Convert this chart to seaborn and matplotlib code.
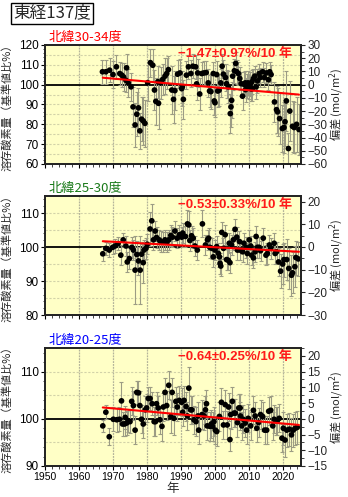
import numpy as np
import pandas as pd
import matplotlib
matplotlib.use("Agg")
import matplotlib.pyplot as plt
import seaborn as sns
from matplotlib.ticker import MultipleLocator

# ---------------- data ----------------
main_title = "東経137度"
panel_titles = ["北緯30-34度", "北緯25-30度", "北緯20-25度"]
panel_colors = ["#ff0000", "#1a7a1a", "#0000ff"]
trend_texts = ["−1.47±0.97%/10 年", "−0.53±0.33%/10 年", "−0.64±0.25%/10 年"]

years_p1 = [1966.9, 1967.9, 1969.0, 1970.0, 1971.0, 1972.0, 1972.6, 1973.1, 1973.8, 1974.0,
            1974.5, 1975.3, 1975.9, 1976.5, 1977.0, 1977.5, 1977.9, 1978.4, 1978.9, 1979.4,
            1980.2, 1981.0, 1981.7, 1982.2, 1982.6, 1983.2, 1983.4, 1984.0, 1984.6, 1985.3,
            1985.8, 1986.3, 1987.3, 1987.8, 1988.2, 1989.0, 1989.7, 1990.2, 1990.4, 1990.7,
            1991.6, 1992.2, 1992.9, 1993.5, 1994.3, 1994.6, 1994.9, 1995.5, 1996.1, 1996.7,
            1997.4, 1998.0, 1998.4, 1998.8, 1999.5, 1999.8, 2000.0, 2000.5, 2000.8, 2001.2,
            2001.7, 2002.1, 2002.5, 2003.1, 2003.4, 2003.9, 2004.5, 2004.7, 2004.9, 2005.2,
            2005.7, 2006.1, 2006.4, 2006.9, 2007.3, 2007.7, 2008.1, 2008.5, 2008.9, 2009.0,
            2009.4, 2009.7, 2010.1, 2010.4, 2010.7, 2010.9, 2011.0, 2011.3, 2011.7, 2012.1,
            2012.5, 2013.0, 2013.3, 2014.0, 2014.5, 2015.1, 2015.7, 2016.1, 2016.5, 2017.5,
            2018.1, 2018.4, 2019.0, 2019.8, 2020.3, 2020.6, 2021.0, 2021.6, 2022.0, 2022.8,
            2023.3, 2024.0, 2024.7]
vals_p1 = [106.5, 106.5, 107.3, 105.1, 109.0, 105.6, 104.8, 103.9, 102.2, 108.5,
           100.9, 98.9, 88.8, 79.7, 85.1, 88.3, 76.7, 82.6, 81.7, 80.5,
           101.0, 111.1, 109.8, 97.3, 91.6, 101.5, 90.6, 100.9, 102.6, 104.3,
           105.6, 107.6, 97.3, 92.6, 97.0, 105.3, 105.9, 98.0, 98.9, 92.6,
           104.8, 109.0, 105.6, 109.3, 109.0, 100.4, 105.9, 95.3, 105.6, 105.9,
           106.1, 100.9, 96.8, 96.5, 105.6, 91.8, 90.9, 105.1, 96.8, 97.2,
           100.9, 109.3, 105.3, 103.6, 100.5, 98.9, 85.4, 88.8, 92.1, 104.3,
           107.0, 110.7, 106.5, 105.6, 103.1, 100.5, 94.2, 100.2, 100.9, 97.5,
           99.2, 100.9, 98.9, 100.2, 97.8, 101.5, 98.0, 103.1, 104.3, 98.9,
           101.9, 105.6, 103.6, 106.5, 103.6, 105.9, 102.5, 106.5, 105.1, 91.3,
           87.4, 86.3, 82.9, 77.9, 78.4, 81.3, 91.8, 67.8, 86.7, 79.0,
           78.4, 80.0, 77.4]
errs_p1 = [6, 6, 6, 7, 6, 6, 6, 7, 6, 7,
           7, 7, 10, 11, 11, 10, 9, 11, 12, 12,
           9, 7, 8, 10, 12, 8, 13, 8, 8, 9,
           8, 7, 12, 12, 10, 7, 7, 9, 8, 10,
           7, 6, 7, 6, 6, 8, 7, 8, 6, 6,
           6, 7, 8, 9, 6, 7, 7, 7, 8, 8,
           7, 6, 7, 7, 7, 8, 10, 10, 9, 7,
           6, 6, 6, 6, 6, 6, 7, 6, 6, 6,
           6, 6, 6, 6, 6, 6, 6, 5, 5, 6,
           6, 5, 5, 5, 5, 5, 5, 5, 5, 10,
           12, 12, 13, 12, 13, 12, 15, 8, 15, 13,
           13, 14, 13]

years_p2 = [1967.0, 1967.9, 1968.9, 1969.9, 1970.6, 1971.5, 1972.3, 1973.0, 1973.8, 1974.2,
            1974.8, 1975.5, 1976.0, 1976.5, 1977.0, 1977.5, 1978.0, 1978.4, 1978.9, 1979.1,
            1979.7, 1980.1, 1980.9, 1981.4, 1981.9, 1982.4, 1982.8, 1983.6, 1984.0, 1984.6,
            1985.3, 1985.8, 1986.4, 1987.0, 1987.5, 1988.2, 1988.9, 1989.5, 1990.2, 1990.5,
            1991.3, 1991.9, 1992.3, 1992.6, 1993.1, 1993.6, 1994.1, 1994.8, 1996.3, 1997.2,
            1997.8, 1998.1, 1998.5, 1999.1, 1999.5, 2000.0, 2000.5, 2001.0, 2001.3, 2001.5,
            2001.7, 2002.0, 2002.5, 2003.0, 2003.4, 2003.9, 2004.2, 2004.4, 2004.9, 2005.4,
            2005.9, 2006.4, 2006.6, 2007.2, 2007.5, 2008.1, 2008.5, 2009.1, 2009.5, 2010.1,
            2010.5, 2010.8, 2011.3, 2011.8, 2012.1, 2012.5, 2013.0, 2013.4, 2014.2, 2015.0,
            2015.4, 2016.0, 2016.4, 2017.4, 2017.7, 2018.1, 2018.7, 2019.3, 2019.9, 2020.3,
            2021.1, 2021.7, 2022.5, 2022.8, 2023.5, 2023.8, 2024.5]
vals_p2 = [98.0, 99.6, 99.1, 99.9, 100.3, 101.0, 97.6, 102.1, 100.3, 95.6,
           96.6, 99.9, 99.1, 93.2, 97.8, 95.9, 93.2, 97.9, 95.4, 99.1,
           99.6, 100.8, 105.3, 107.7, 102.1, 104.7, 102.8, 102.1, 101.6, 101.4,
           102.1, 101.4, 102.1, 103.4, 102.9, 104.7, 102.6, 103.6, 102.9, 104.1,
           103.1, 106.8, 106.5, 101.9, 103.3, 102.6, 100.3, 99.1, 106.8, 100.6,
           102.1, 102.6, 99.9, 99.6, 97.1, 99.1, 100.1, 98.1, 97.1, 95.2,
           94.4, 104.3, 99.6, 103.6, 96.3, 96.1, 101.1, 95.4, 100.6, 102.1,
           105.2, 102.9, 99.1, 101.6, 99.1, 98.6, 101.1, 99.9, 98.1, 102.1,
           100.3, 97.6, 96.8, 98.6, 103.1, 99.9, 99.9, 98.9, 102.6, 97.6,
           98.1, 100.6, 99.6, 101.1, 98.1, 98.6, 95.6, 92.9, 95.0, 96.3,
           96.3, 93.7, 91.7, 92.4, 94.2, 96.9, 96.5]
errs_p2 = [2, 2, 2, 2, 2, 2, 3, 2, 3, 3,
           3, 3, 3, 10, 4, 4, 10, 3, 6, 3,
           3, 3, 5, 5, 3, 3, 3, 3, 3, 3,
           3, 3, 3, 3, 3, 3, 3, 3, 3, 3,
           3, 4, 4, 3, 3, 3, 3, 3, 4, 3,
           3, 3, 3, 3, 3, 3, 3, 3, 3, 3,
           3, 3, 3, 3, 3, 3, 3, 3, 3, 3,
           3, 3, 3, 3, 3, 3, 3, 3, 3, 3,
           3, 3, 3, 3, 3, 3, 3, 3, 3, 3,
           3, 3, 3, 3, 3, 3, 4, 5, 6, 5,
           6, 6, 6, 6, 6, 5, 5]

years_p3 = [1967.0, 1967.9, 1968.9, 1970.1, 1971.1, 1971.9, 1972.5, 1972.8, 1973.4, 1973.6,
            1974.0, 1974.5, 1975.0, 1975.5, 1976.0, 1976.5, 1977.0, 1977.5, 1977.9, 1978.4,
            1978.9, 1979.5, 1979.9, 1980.4, 1980.9, 1981.5, 1982.1, 1982.5, 1982.8, 1983.3,
            1983.8, 1984.4, 1984.8, 1985.3, 1985.8, 1986.4, 1987.0, 1987.4, 1987.9, 1988.5,
            1988.9, 1989.5, 1990.2, 1990.5, 1990.9, 1991.5, 1991.9, 1992.3, 1992.8, 1993.2,
            1993.8, 1994.4, 1995.0, 1995.2, 1996.2, 1996.8, 1997.2, 1997.5, 1997.7, 1998.5,
            1998.9, 1999.3, 1999.7, 2000.1, 2000.5, 2001.3, 2001.9, 2002.5, 2003.0, 2003.6,
            2004.0, 2004.4, 2004.6, 2005.1, 2005.6, 2006.0, 2006.6, 2007.0, 2007.4, 2007.5,
            2007.9, 2008.3, 2008.9, 2009.3, 2009.8, 2010.5, 2011.3, 2011.8, 2012.3, 2012.8,
            2013.4, 2014.0, 2014.6, 2015.2, 2015.8, 2016.4, 2017.0, 2017.4, 2018.0, 2018.3,
            2018.9, 2019.7, 2020.1, 2020.6, 2021.1, 2021.9, 2022.5, 2023.0, 2023.6, 2024.2]
vals_p3 = [98.5, 101.4, 96.2, 99.9, 99.8, 99.9, 103.8, 98.9, 98.9, 100.3,
           99.1, 99.6, 99.4, 103.7, 102.8, 97.6, 105.6, 105.5, 102.8, 99.9,
           98.9, 101.9, 102.3, 104.3, 104.3, 103.2, 99.4, 99.4, 103.2, 102.3,
           99.8, 98.4, 102.5, 105.6, 102.8, 107.1, 100.5, 105.6, 100.1, 103.7,
           102.5, 103.9, 103.5, 101.4, 103.9, 102.6, 100.6, 106.5, 101.9, 101.9,
           99.8, 99.4, 100.6, 97.6, 100.9, 100.6, 101.9, 103.2, 98.5, 98.4,
           98.9, 98.4, 99.4, 97.6, 97.3, 100.5, 103.5, 98.7, 103.0, 98.7,
           102.5, 95.6, 100.9, 103.7, 101.2, 101.2, 99.2, 102.3, 102.3, 100.6,
           98.5, 99.9, 99.1, 97.6, 100.1, 98.5, 101.8, 100.6, 98.0, 99.2,
           100.9, 100.5, 97.6, 97.6, 101.6, 101.8, 98.5, 99.9, 99.6, 99.6,
           100.1, 95.9, 98.0, 95.5, 97.6, 97.8, 96.6, 97.6, 98.0, 98.2]
errs_p3 = [1.2, 1.5, 1.8, 2.5, 2.5, 2.5, 4.0, 2.5, 2.5, 2.5,
           2.5, 2.5, 2.5, 3.0, 3.0, 3.0, 2.5, 2.5, 3.0, 3.0,
           3.0, 3.0, 3.0, 2.5, 2.5, 2.5, 3.0, 3.0, 2.5, 2.5,
           3.0, 3.0, 3.0, 3.0, 3.0, 3.0, 3.5, 3.0, 3.5, 3.0,
           3.0, 3.0, 3.0, 3.0, 3.0, 3.0, 3.0, 4.5, 3.0, 3.0,
           3.0, 3.0, 3.0, 3.0, 3.0, 3.0, 3.0, 3.0, 3.0, 3.0,
           3.0, 3.0, 3.0, 3.0, 3.0, 3.0, 3.0, 3.0, 3.0, 3.0,
           3.0, 2.5, 3.0, 3.0, 3.0, 3.0, 3.0, 3.0, 3.0, 3.0,
           3.0, 3.0, 3.0, 3.0, 3.0, 3.0, 3.0, 3.0, 3.0, 3.0,
           3.0, 3.0, 3.0, 3.0, 3.0, 3.0, 3.0, 3.0, 3.0, 3.0,
           3.0, 3.0, 3.5, 3.5, 3.5, 3.5, 3.5, 3.5, 3.5, 3.5]

trend_years = [1967.0, 2024.7]
trend_p1 = [103.5, 95.0]
trend_p2 = [101.7, 98.6]
trend_p3 = [102.4, 98.7]

ylims = [(60, 120), (80, 115), (90, 115)]
right_step = [10, 10, 5]
mol_per_pct = 1.5      # right-axis conversion (mol/m2 per % of reference)
year_ticks = [1950, 1960, 1970, 1980, 1990, 2000, 2010, 2020]

# ---------------- style ----------------
sns.set_theme(style="ticks")
plt.rcParams["font.family"] = ["Liberation Sans", "Noto Sans CJK JP", "DejaVu Sans"]
plt.rcParams["axes.unicode_minus"] = True
cjk = ["Noto Sans CJK JP", "Liberation Sans", "DejaVu Sans"]

W, H = 348, 497
fig = plt.figure(figsize=(W / 100, H / 100), dpi=100)
fig.patch.set_facecolor("white")

left_px, right_px = 45, 301
tops = [45, 196, 348]
bottoms = [164, 315, 466]

data = [(years_p1, vals_p1, errs_p1, trend_p1),
        (years_p2, vals_p2, errs_p2, trend_p2),
        (years_p3, vals_p3, errs_p3, trend_p3)]

for i in range(3):
    yrs, vals, errs, tr = data[i]
    lo, hi = ylims[i]
    ax = fig.add_axes([left_px / W, 1 - bottoms[i] / H,
                       (right_px - left_px) / W, (bottoms[i] - tops[i]) / H])
    ax.set_facecolor("#ffffc6")
    ax.set_xlim(1950, 2025.3)
    ax.set_ylim(lo, hi)

    # grid
    for yv in np.arange(lo + 5, hi, 5):
        if yv != 100:
            ax.axhline(yv, color="#d2d2a8", lw=0.8, ls=(0, (2, 1.5)), zorder=0)
    for xv in year_ticks[1:]:
        ax.axvline(xv, color="#b4b49a", lw=0.9, ls=(0, (1.5, 0.8)), zorder=0)

    ax.axhline(100, color="black", lw=1.3, zorder=1)

    ax.errorbar(yrs, vals, yerr=errs, fmt="none", ecolor="#9c9c84",
                elinewidth=0.8, capsize=1.6, capthick=0.8, zorder=2)
    sns.scatterplot(x=yrs, y=vals, ax=ax, color="black", s=17,
                    edgecolor="none", linewidth=0, zorder=3, legend=False)
    sns.lineplot(x=trend_years, y=tr, ax=ax, color="red", lw=1.5, zorder=4)

    ax.set_xticks(year_ticks)
    ax.xaxis.set_minor_locator(MultipleLocator(2))
    ax.yaxis.set_major_locator(MultipleLocator(10))
    ax.yaxis.set_minor_locator(MultipleLocator(2))
    ax.tick_params(axis="both", which="major", direction="out", length=3,
                   width=0.8, labelsize=8.5, pad=1.5, colors="black")
    ax.tick_params(axis="both", which="minor", direction="out", length=1.8, width=0.6)
    ax.tick_params(axis="x", labelsize=7.5)
    if i < 2:
        ax.tick_params(axis="x", labelbottom=False)
    for s in ax.spines.values():
        s.set_linewidth(1.2)
        s.set_color("black")

    ax2 = ax.twinx()
    ax2.set_ylim((lo - 100) * mol_per_pct, (hi - 100) * mol_per_pct)
    ax2.yaxis.set_major_locator(MultipleLocator(right_step[i]))
    ax2.yaxis.set_minor_locator(MultipleLocator(right_step[i] / 2))
    ax2.tick_params(axis="y", which="major", direction="out", length=3, width=0.8,
                    labelsize=8.5, pad=1.5)
    ax2.tick_params(axis="y", which="minor", direction="out", length=1.8, width=0.6)
    for s in ax2.spines.values():
        s.set_linewidth(1.2)
    ax2.grid(False)

    ax.set_ylabel("溶存酸素量（基準値比%）", family=cjk, fontsize=8)
    ax.yaxis.set_label_coords(-0.128, 0.5)
    ax2.set_ylabel("偏差 (mol/m$^2$)", family=cjk, fontsize=8)
    ax2.yaxis.set_label_coords(1.105, 0.5)

    ax.text(0.012, 1.01, panel_titles[i], transform=ax.transAxes, ha="left",
            va="bottom", color=panel_colors[i], fontsize=9.5, family=cjk)
    ax.text(0.965, 0.975, trend_texts[i], transform=ax.transAxes, ha="right",
            va="top", color="#ff1a1a", fontsize=9.5, fontweight="bold", zorder=5)

    if i == 2:
        ax.set_xlabel("年", family=cjk, fontsize=9, labelpad=0)

fig.text(13 / W, 1 - 13 / H, main_title, family=cjk, fontsize=12,
         ha="left", va="center",
         bbox=dict(boxstyle="square,pad=0.12", fc="white", ec="black", lw=1.0))

fig.savefig("out.png", dpi=100)
